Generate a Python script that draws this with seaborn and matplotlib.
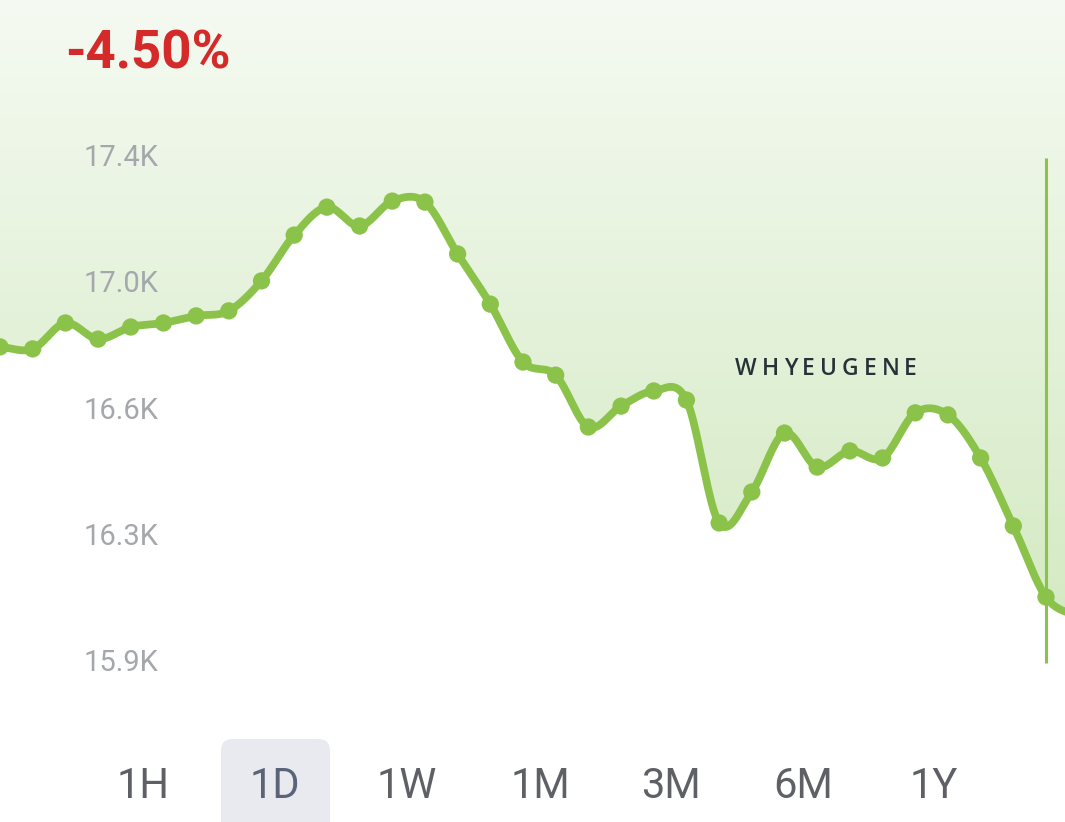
import numpy as np
import pandas as pd
import matplotlib
matplotlib.use('Agg')
import matplotlib.pyplot as plt
import seaborn as sns
from matplotlib.patches import FancyBboxPatch

# price values (K), one per sample; last one sits just past the right edge
prices = [16.839, 16.833, 16.910, 16.862, 16.898, 16.910, 16.931, 16.946,
          17.035, 17.171, 17.254, 17.198, 17.272, 17.269, 17.115, 16.966,
          16.794, 16.755, 16.601, 16.663, 16.708, 16.681, 16.316, 16.408,
          16.583, 16.482, 16.530, 16.509, 16.643, 16.637, 16.509, 16.307,
          16.096, 16.035]
tick_vals = [17.4, 17.025, 16.65, 16.275, 15.9]
tick_labels = ['17.4K', '17.0K', '16.6K', '16.3K', '15.9K']
ranges = ['1H', '1D', '1W', '1M', '3M', '6M', '1Y']
selected = '1D'
change = '-4.50%'
watermark = 'WHYEUGENE'
cursor_idx = 32

GREEN = '#8bc34a'

df = pd.DataFrame({'idx': np.arange(len(prices)), 'price': prices})


def catmull_rom(x, y, n=20):
    # smooth curve through every point
    y = np.asarray(y, float)
    yp = np.concatenate([[2 * y[0] - y[1]], y, [2 * y[-1] - y[-2]]])
    xs, ys = [], []
    for i in range(len(y) - 1):
        p0, p1, p2, p3 = yp[i], yp[i + 1], yp[i + 2], yp[i + 3]
        t = np.linspace(0, 1, n, endpoint=False)
        v = 0.5 * (2 * p1 + (-p0 + p2) * t + (2 * p0 - 5 * p1 + 4 * p2 - p3) * t ** 2
                   + (-p0 + 3 * p1 - 3 * p2 + p3) * t ** 3)
        xs.append(x[i] + t * (x[i + 1] - x[i]))
        ys.append(v)
    xs.append([x[-1]])
    ys.append([y[-1]])
    return np.concatenate(xs), np.concatenate(ys)


sx, sy = catmull_rom(df['idx'].values, df['price'].values)
smooth = pd.DataFrame({'x': sx, 'y': sy})

fig = plt.figure(figsize=(10.65, 8.22), dpi=100)
ax = fig.add_axes([0, 0, 1, 1])

px_per_k = 505 / 1.5
ytop = 17.4 + 158 / px_per_k
ybot = 17.4 - (822 - 158) / px_per_k
xmax = 1065 / (1046 / 32)

# gradient fill above the line
grad_end = 17.4 - (663 - 158) / px_per_k
top_c = np.array([245, 250, 242]) / 255
bot_c = np.array([210, 233, 192]) / 255
yy = np.linspace(0, 1, 256)[:, None]
img = top_c + (bot_c - top_c) * yy[..., None] * np.ones((1, 2, 1))
poly = ax.fill_between(sx, sy, ytop, facecolor='none', edgecolor='none')
im = ax.imshow(img, extent=[-1, xmax + 1, grad_end, ytop], aspect='auto',
               origin='upper', zorder=1)
im.set_clip_path(poly.get_paths()[0], transform=ax.transData)

sns.lineplot(data=smooth, x='x', y='y', ax=ax, color=GREEN, lw=5.6,
             sort=False, estimator=None, zorder=3)
sns.scatterplot(data=df, x='idx', y='price', ax=ax, color=GREEN, s=155,
                edgecolor='none', zorder=4, legend=False)
ax.set_axis_off()
ax.set_xlim(0, xmax)
ax.set_ylim(ybot, ytop)

# cursor line
ax.plot([cursor_idx, cursor_idx], [tick_vals[0], tick_vals[-1]], color=GREEN,
        lw=2.2, zorder=2, solid_capstyle='butt')

# value labels
for v, lab in zip(tick_vals, tick_labels):
    ax.text(84 / 1065, v, lab, transform=ax.get_yaxis_transform(),
            ha='left', va='center', fontsize=21, color='#a4a8ac',
            family=['Roboto', 'DejaVu Sans'], zorder=5)

ax.text(65 / 1065, 1 - 54 / 822, change, transform=ax.transAxes, ha='left',
        va='center', fontsize=38, fontweight='bold', color='#d42a2a',
        family=['Roboto', 'DejaVu Sans'], zorder=5)

# watermark, drawn letter by letter for the wide tracking
renderer = fig.canvas.get_renderer()
wm_x, wm_right, wm_y = 735, 917, 369
letters = []
total = 0
for ch in watermark:
    t = ax.text(0, 0, ch, transform=None, fontsize=16.5, fontweight='semibold',
                color='#263238', family=['Open Sans', 'DejaVu Sans'],
                ha='left', va='center', zorder=5)
    w = t.get_window_extent(renderer).width
    letters.append((t, w))
    total += w
gap = (wm_right - wm_x - total) / (len(watermark) - 1)
cx = wm_x
for t, w in letters:
    t.set_transform(ax.transAxes)
    t.set_position((cx / 1065, 1 - wm_y / 822))
    cx += w + gap

# range selector
centers = [143, 275, 407, 540, 671, 803, 934]
for lab, cx in zip(ranges, centers):
    if lab == selected:
        box = FancyBboxPatch(((cx - 54) / 1065, -0.05), 109 / 1065, 0.05 + (822 - 739) / 822,
                             boxstyle='round,pad=0,rounding_size=0.011',
                             mutation_aspect=1065 / 822, transform=ax.transAxes,
                             facecolor='#e8eaef', edgecolor='none', zorder=5,
                             clip_on=False)
        ax.add_patch(box)
    ax.text(cx / 1065, 1 - 786 / 822, lab, transform=ax.transAxes, ha='center',
            va='center', fontsize=30,
            color='#5a6478' if lab == selected else '#5e6065',
            family=['Roboto', 'DejaVu Sans'], zorder=6)

fig.savefig('out.png', dpi=100, facecolor='white')
